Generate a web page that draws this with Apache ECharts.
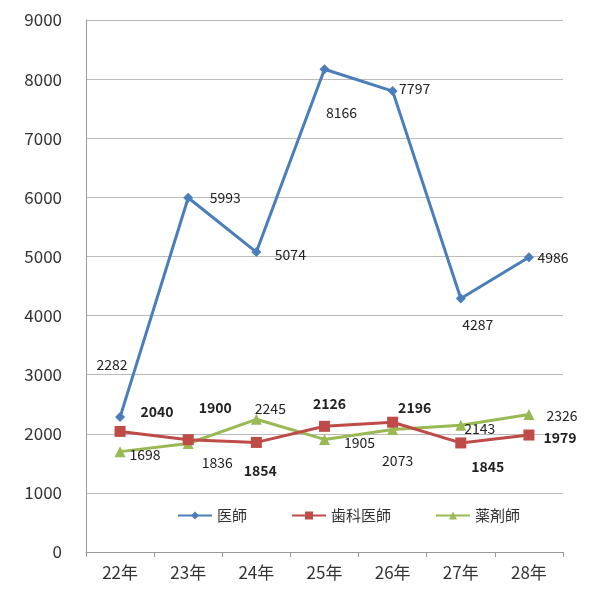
<!DOCTYPE html>
<html><head><meta charset="utf-8">
<script src="https://cdn.jsdelivr.net/npm/echarts@6/dist/echarts.min.js"></script>
<style>html,body{margin:0;padding:0;background:#fff}#c{width:592px;height:593px}</style>
</head><body><div id="c"></div>
<script>
const categories = ['22年','23年','24年','25年','26年','27年','28年'];
const doctors = [2282, 5993, 5074, 8166, 7797, 4287, 4986];
const dentists = [2040, 1900, 1854, 2126, 2196, 1845, 1979];
const pharmacists = [1698, 1836, 2245, 1905, 2073, 2143, 2326];
const seriesNames = ['医師', '歯科医師', '薬剤師'];

const font = '"Noto Sans CJK JP", sans-serif';
const blueOff = [[-8,-52],[37,0],[34,3],[17,43],[22,-2],[17,26],[24,0]];
const redOff = [[37,-20],[27,-32],[4,28],[5,-23],[22,-15],[27,24],[31,3]];
const greenOff = [[25,3],[29,19],[14,-11],[35,3],[5,31],[19,3],[33,1]];

function mk(vals, offs){
  return vals.map((v,i)=>({value:v,label:{offset:offs[i]}}));
}
function lbl(bold){
  return {show:true,position:'inside',color:'#222',fontSize:14,fontFamily:font,fontWeight:bold?'bold':'normal'};
}
const chart = echarts.init(document.getElementById('c'));
chart.setOption({
  animation:false,
  grid:{left:86,right:29,top:20,bottom:41},
  legend:{top:503,left:172,itemGap:44,itemWidth:34,itemHeight:10,
    textStyle:{fontFamily:font,fontSize:15,color:'#333'},
    data:seriesNames},
  xAxis:{type:'category',data:categories,boundaryGap:true,
    axisLine:{lineStyle:{color:'#999'}},
    axisTick:{show:true,length:5,lineStyle:{color:'#999'}},
    axisLabel:{color:'#333',fontSize:17,fontFamily:font,margin:12}},
  yAxis:{type:'value',min:0,max:9000,interval:1000,
    axisLine:{show:true,lineStyle:{color:'#999'}},
    axisTick:{show:false},
    splitLine:{lineStyle:{color:'#bbb'}},
    axisLabel:{color:'#333',fontSize:17,fontFamily:font,margin:24,formatter:v=>String(v)}},
  series:[
    {name:seriesNames[0],type:'line',data:mk(doctors,blueOff),symbol:'diamond',symbolSize:10,
      itemStyle:{color:'#4a7ebb'},lineStyle:{width:3,color:'#4a7ebb'},label:lbl(false),z:3},
    {name:seriesNames[1],type:'line',data:mk(dentists,redOff),symbol:'rect',symbolSize:11,
      itemStyle:{color:'#be4b48'},lineStyle:{width:3,color:'#be4b48'},label:lbl(true),z:2},
    {name:seriesNames[2],type:'line',data:mk(pharmacists,greenOff),symbol:'triangle',symbolSize:11,
      itemStyle:{color:'#98b954'},lineStyle:{width:3,color:'#98b954'},label:lbl(false),z:1}
  ]
});
</script></body></html>
